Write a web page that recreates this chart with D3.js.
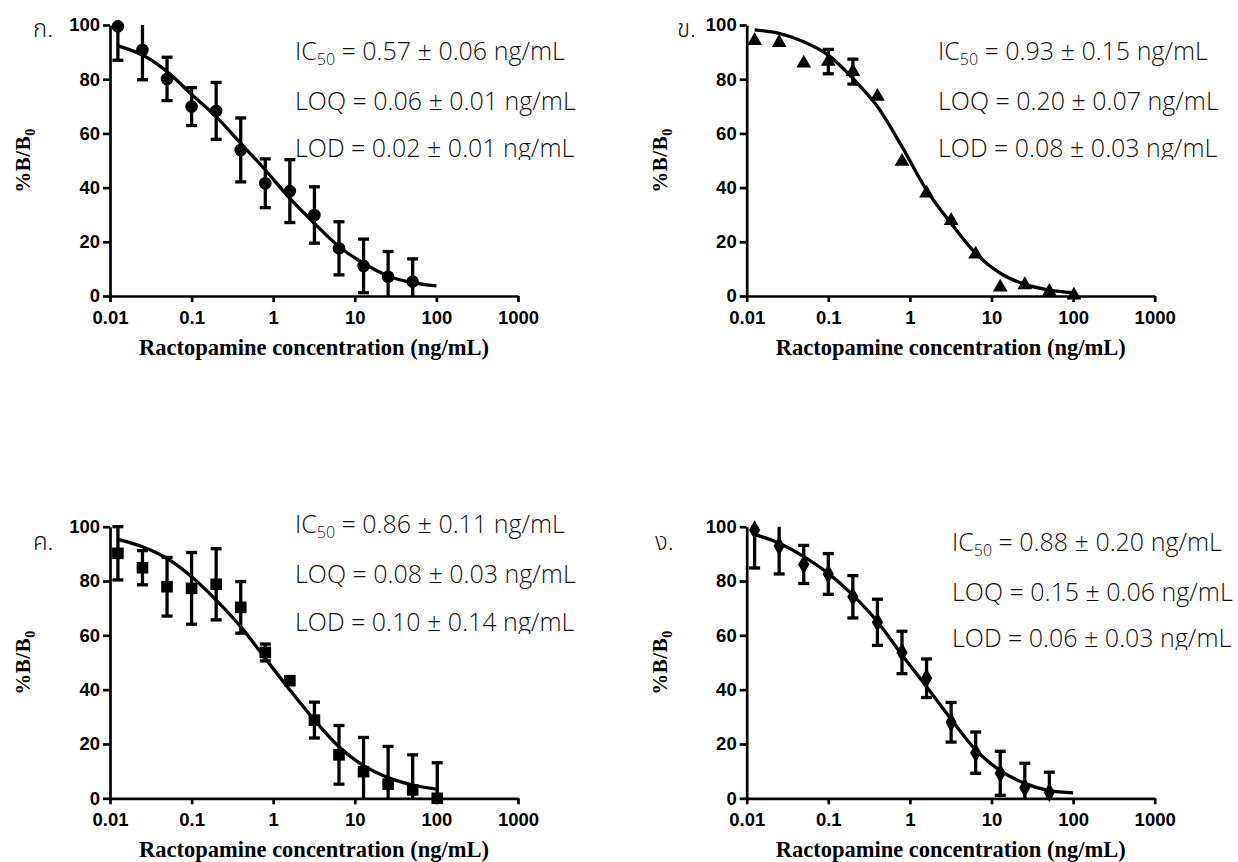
<!DOCTYPE html>
<html>
<head>
<meta charset="utf-8">
<script src="https://cdn.jsdelivr.net/npm/d3@7"></script>
<style>
  html, body { margin: 0; padding: 0; background: #fff; }
  svg { display: block; }
  .tick text { font-family: "Liberation Sans", Arial, sans-serif; font-weight: bold; font-size: 18.5px; fill: #000; }
  .axis path, .axis line { stroke: #000; stroke-width: 2.7px; }
  .ytitle, .xtitle { font-family: "Liberation Serif", "Times New Roman", serif; font-weight: bold; fill: #000; }
  .stats { font-family: "Open Sans", sans-serif; font-weight: 300; font-size: 25px; fill: #111; }
  .plabel { font-family: "Noto Sans Thai", "Noto Sans", "DejaVu Sans", sans-serif; font-weight: 300; font-size: 24px; fill: #111; }
</style>
</head>
<body>
<script>
// ---------------- data ----------------
const concentrations = [0.0125, 0.025, 0.05, 0.1, 0.2, 0.4, 0.8, 1.6, 3.2, 6.4, 12.8, 25.6, 51.2, 102.4];
const curveX = [0.0125, 0.025, 0.05, 0.1, 0.2, 0.4, 0.8, 1.6, 3.2, 6.4, 12.8, 25.6, 51.2, 100];

const valsA  = [99.5, 90.8, 80.1, 69.9, 68.3, 53.9, 41.6, 38.7, 29.9, 17.6, 11.1, 7.1, 5.3];
const errA   = [12.5, 11.0, 8.0, 7.0, 10.5, 11.8, 9.0, 11.6, 10.4, 9.8, 9.9, 9.3, 8.4];
const curveA = [92.3, 88.9, 82.8, 74.4, 66.2, 56.3, 46.5, 36.0, 26.8, 18.2, 12.1, 7.4, 4.9, 3.7];

const valsB  = [94.2, 93.5, 85.9, 86.5, 82.8, 73.6, 49.6, 37.9, 27.8, 15.4, 3.2, 4.1, 1.6, 0.3];
const errB   = [0, 0, 0, 4.5, 4.6, 0, 0, 0, 0, 0, 0, 0, 0, 0];
const curveB = [98.2, 96.9, 93.8, 88.9, 80.3, 69.9, 55.1, 39.1, 26.8, 15.7, 8.4, 4.3, 2.2, 1.2];

const valsC  = [90.2, 84.9, 77.9, 77.3, 78.8, 70.3, 53.7, 43.3, 28.8, 16.0, 9.8, 5.2, 3.1, 0];
const errC   = [9.8, 6.3, 10.8, 13.2, 13.1, 9.5, 3.1, 0, 6.6, 10.8, 12.6, 13.9, 12.9, 13.1];
const curveC = [95.3, 92.6, 88.3, 81.6, 73.0, 63.2, 51.5, 39.9, 28.8, 19.0, 12.0, 7.6, 4.9, 3.4];

const valsD  = [98.8, 92.9, 86.1, 82.6, 74.2, 64.8, 53.7, 44.2, 28.0, 16.8, 9.2, 3.9, 2.1];
const errD   = [14.0, 10.3, 7.0, 7.5, 7.8, 8.5, 7.8, 7.1, 7.3, 7.6, 8.1, 9.0, 7.5];
const curveD = [97.2, 93.9, 89.0, 82.8, 74.8, 65.0, 52.8, 41.1, 29.1, 17.8, 10.2, 5.5, 2.8, 2.0];

const panelLabels = ["ก.", "ข.", "ค.", "ง."];
const ic50Values = ["0.57 ± 0.06", "0.93 ± 0.15", "0.86 ± 0.11", "0.88 ± 0.20"];
const loqValues  = ["0.06 ± 0.01", "0.20 ± 0.07", "0.08 ± 0.03", "0.15 ± 0.06"];
const lodValues  = ["0.02 ± 0.01", "0.08 ± 0.03", "0.10 ± 0.14", "0.06 ± 0.03"];

const xTicks = [0.01, 0.1, 1, 10, 100, 1000];
const xTickLabels = ["0.01", "0.1", "1", "10", "100", "1000"];
const yTicks = [0, 20, 40, 60, 80, 100];
const xTitle = "Ractopamine concentration (ng/mL)";

// ---------------- layout ----------------
const W = 1238, H = 862;
const layout = [
  { x0: 110,   y0: 296,   y100: 25,    marker: "circle",   labelX: 33,  labelY: 37,  statX: 295, statY: [60, 110, 157] },
  { x0: 746.7, y0: 296,   y100: 25,    marker: "triangle", labelX: 677, labelY: 37,  statX: 938, statY: [60, 110, 157] },
  { x0: 110,   y0: 798.3, y100: 526.7, marker: "square",   labelX: 33,  labelY: 550, statX: 295, statY: [533, 583, 631] },
  { x0: 746.7, y0: 798.3, y100: 526.7, marker: "diamond",  labelX: 655, labelY: 550, statX: 952, statY: [551, 601, 647] }
];
const panelData = [
  { vals: valsA, errs: errA, curve: curveA },
  { vals: valsB, errs: errB, curve: curveB },
  { vals: valsC, errs: errC, curve: curveC },
  { vals: valsD, errs: errD, curve: curveD }
];
const decade = 81.6;

const svg = d3.select("body").append("svg").attr("width", W).attr("height", H);

layout.forEach((L, i) => {
  const D = panelData[i];
  const x = d3.scaleLog().domain([0.01, 1000]).range([L.x0, L.x0 + 5 * decade]);
  const y = d3.scaleLinear().domain([0, 100]).range([L.y0, L.y100]);
  const g = svg.append("g");

  // axes
  g.append("g").attr("class", "axis")
    .attr("transform", `translate(0,${L.y0})`)
    .call(d3.axisBottom(x).tickValues(xTicks).tickFormat((d, k) => xTickLabels[k]).tickSize(6).tickSizeOuter(0).tickPadding(9));
  g.append("g").attr("class", "axis")
    .attr("transform", `translate(${L.x0},0)`)
    .call(d3.axisLeft(y).tickValues(yTicks).tickSize(7).tickSizeOuter(0).tickPadding(3));

  // titles
  const xm = (x.range()[0] + x.range()[1]) / 2;
  g.append("text").attr("class", "xtitle")
    .attr("x", xm).attr("y", L.y0 + 59).attr("text-anchor", "middle")
    .style("font-size", "22.5px").text(xTitle);
  const ym = (L.y0 + L.y100) / 2;
  const yt = g.append("text").attr("class", "ytitle")
    .attr("transform", `translate(${L.x0 - 80},${ym}) rotate(-90)`)
    .attr("text-anchor", "middle").style("font-size", "21px").style("letter-spacing", "0.5px");
  yt.append("tspan").text("%B/B");
  yt.append("tspan").attr("dy", 5).style("font-size", "14px").text("0");

  // curve
  const line = d3.line().x((d, k) => x(curveX[k])).y(d => y(d)).curve(d3.curveMonotoneX);
  g.append("path").datum(D.curve).attr("d", line)
    .attr("fill", "none").attr("stroke", "#000").attr("stroke-width", 3.3);

  // error bars
  const n = D.vals.length;
  const pts = d3.range(n).map(k => ({ c: concentrations[k], v: D.vals[k], e: D.errs[k] }));
  const eb = g.append("g").attr("stroke", "#000").attr("stroke-width", 3.3);
  pts.filter(p => p.e > 0).forEach(p => {
    const hi = p.v + p.e, lo = p.v - p.e;
    const px = x(p.c);
    eb.append("line").attr("x1", px).attr("x2", px)
      .attr("y1", y(Math.min(hi, 100))).attr("y2", y(Math.max(lo, 0)));
    if (hi <= 100.3) eb.append("line").attr("x1", px - 5.5).attr("x2", px + 5.5).attr("y1", y(hi)).attr("y2", y(hi));
    if (lo >= -0.3) eb.append("line").attr("x1", px - 5.5).attr("x2", px + 5.5).attr("y1", y(lo)).attr("y2", y(lo));
  });

  // markers
  const symType = { circle: d3.symbolCircle, triangle: d3.symbolTriangle, square: d3.symbolSquare, diamond: d3.symbolDiamond }[L.marker];
  const symSize = { circle: 125, triangle: 95, square: 135, diamond: 110 }[L.marker];
  g.append("g").selectAll("path").data(pts).join("path")
    .attr("transform", p => `translate(${x(p.c)},${y(p.v)})`)
    .attr("d", d3.symbol().type(symType).size(symSize))
    .attr("fill", "#000");

  // panel label
  g.append("text").attr("class", "plabel").attr("x", L.labelX).attr("y", L.labelY).text(panelLabels[i]);

  // stats text
  const s1 = g.append("text").attr("class", "stats").attr("x", L.statX).attr("y", L.statY[0]);
  s1.append("tspan").text("IC");
  s1.append("tspan").attr("dy", 5).style("font-size", "16px").text("50");
  s1.append("tspan").attr("dy", -5).text(` = ${ic50Values[i]} ng/mL`);
  g.append("text").attr("class", "stats").attr("x", L.statX).attr("y", L.statY[1]).text(`LOQ = ${loqValues[i]} ng/mL`);
  const clipId = "clip" + i;
  svg.append("clipPath").attr("id", clipId).append("rect")
    .attr("x", L.statX - 5).attr("y", L.statY[2] - 30).attr("width", 320).attr("height", 33);
  g.append("text").attr("class", "stats").attr("clip-path", `url(#${clipId})`)
    .attr("x", L.statX).attr("y", L.statY[2]).text(`LOD = ${lodValues[i]} ng/mL`);
});
</script>
</body>
</html>
